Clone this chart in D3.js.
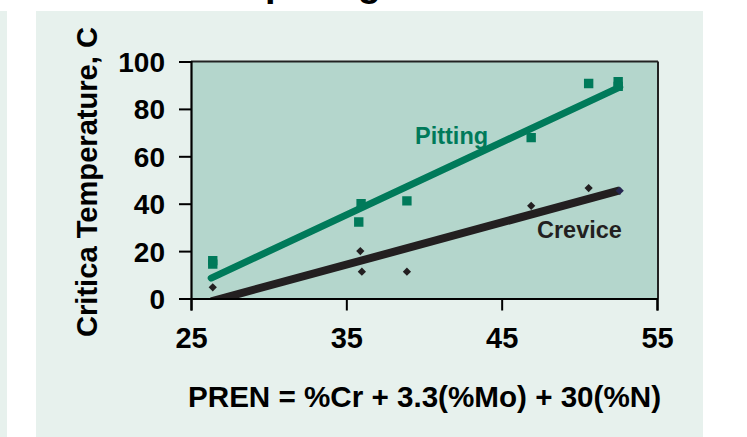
<!DOCTYPE html>
<html><head><meta charset="utf-8">
<script src="https://cdn.jsdelivr.net/npm/d3@7"></script>
<style>
html,body{margin:0;padding:0;background:#fff;}
svg{display:block;font-family:"Liberation Sans",Arial,sans-serif;font-weight:bold;}
</style></head>
<body>
<svg id="c" width="747" height="437"></svg>
<script>
// ---- data ----
const xTicks = [25, 35, 45, 55];
const yTicks = [0, 20, 40, 60, 80, 100];
const pittingX = [26.4, 26.4, 35.95, 35.8, 38.9, 46.9, 50.6, 52.5, 52.5];
const pittingY = [14.5, 16.0, 40.0, 32.3, 41.2, 67.9, 90.7, 91.5, 89.5];
const creviceX = [26.4, 35.9, 36.0, 38.9, 46.9, 50.6];
const creviceY = [4.7, 20.0, 11.3, 11.3, 39.1, 46.6];
const creviceLastX = [52.6];
const creviceLastY = [45.5];
const fitX = [26.3, 52.6];
const pittingFit = [8.6, 89.2];
const creviceFit = [-1.2, 45.6];
const labels = ["Pitting", "Crevice"];
const title = "Critical pitting";
const xTitle = "PREN = %Cr + 3.3(%Mo) + 30(%N)";
const yTitle = "Critica Temperature, C";

const svg = d3.select("#c");
const green = "#007a5a", dark = "#231f20";

// background panels
svg.append("rect").attr("x",0).attr("y",11).attr("width",7).attr("height",426).attr("fill","#e7f1ed");
svg.append("rect").attr("x",36).attr("y",11).attr("width",667).attr("height",426).attr("fill","#e7f1ed");

// title (mostly cut off above the picture)
const t = svg.append("text").attr("y",-4).attr("font-size",38).attr("fill","#000").text(title);
const pre = t.node().getSubStringLength(0, 9);
t.attr("x", 265 - pre);

const x = d3.scaleLinear().domain([25,55]).range([191,657]);
const y = d3.scaleLinear().domain([0,100]).range([298.5,61.5]);

// plot area
svg.append("rect").attr("x",x(25)).attr("y",y(100)).attr("width",x(55)-x(25)+1).attr("height",y(0)-y(100)).attr("fill","#b4d6cc");
svg.append("clipPath").attr("id","clip").append("rect")
  .attr("x",x(25)).attr("y",y(100)).attr("width",x(55)-x(25)).attr("height",y(0)-y(100));

const g = svg.append("g").attr("clip-path","url(#clip)");
const line = d3.line().x(d=>x(d[0])).y(d=>y(d[1]));
g.append("path").datum(fitX.map((v,i)=>[v,creviceFit[i]])).attr("d",line)
  .attr("stroke",dark).attr("stroke-width",8).attr("fill","none").attr("stroke-linecap","butt");
g.append("path").datum(fitX.map((v,i)=>[v,pittingFit[i]])).attr("d",line)
  .attr("stroke",green).attr("stroke-width",7).attr("fill","none").attr("stroke-linecap","round");

// points
const sq = d3.symbol().type(d3.symbolSquare).size(88);
g.selectAll(".p").data(pittingX.map((v,i)=>[v,pittingY[i]])).join("path")
  .attr("d",sq).attr("transform",d=>`translate(${x(d[0])},${y(d[1])})`).attr("fill",green);
const dm = d3.symbol().type(d3.symbolSquare).size(34);
g.selectAll(".c").data(creviceX.map((v,i)=>[v,creviceY[i]])).join("path")
  .attr("d",dm).attr("transform",d=>`translate(${x(d[0])},${y(d[1])}) rotate(45)`).attr("fill",dark);
g.selectAll(".cl").data(creviceLastX.map((v,i)=>[v,creviceLastY[i]])).join("path")
  .attr("d",dm).attr("transform",d=>`translate(${x(d[0])},${y(d[1])}) rotate(45)`).attr("fill","#26264f");

// series labels
svg.append("text").attr("x",415).attr("y",144).attr("font-size",23.5).attr("fill",green).text(labels[0]);
svg.append("text").attr("x",537).attr("y",238).attr("font-size",23.5).attr("fill",dark).text(labels[1]);

// frame (top/right)
svg.append("line").attr("x1",x(25)).attr("x2",x(55)+1).attr("y1",y(100)).attr("y2",y(100)).attr("stroke","#222").attr("stroke-width",2);
svg.append("line").attr("x1",x(55)+1).attr("x2",x(55)+1).attr("y1",y(100)).attr("y2",y(0)).attr("stroke","#222").attr("stroke-width",2);

// axes
const yAxis = d3.axisLeft(y).tickValues(yTicks).tickSize(12).tickPadding(14).tickFormat(d3.format("d"));
const ya = svg.append("g").attr("transform",`translate(${x(25)},0)`).call(yAxis);
ya.select(".domain").attr("stroke","#000").attr("stroke-width",2.2);
ya.selectAll(".tick line").attr("stroke","#000").attr("stroke-width",2);
ya.selectAll(".tick text").attr("font-size",28).attr("font-family","Liberation Sans, Arial, sans-serif").attr("font-weight","bold").attr("fill","#000").attr("dy","0.36em");

const xAxis = d3.axisBottom(x).tickValues(xTicks).tickSize(12).tickPadding(17).tickFormat(d3.format("d"));
const xa = svg.append("g").attr("transform",`translate(0,${y(0)})`).call(xAxis);
xa.select(".domain").attr("stroke","#000").attr("stroke-width",2.2);
xa.selectAll(".tick line").attr("stroke","#000").attr("stroke-width",2);
xa.selectAll(".tick text").attr("font-size",29).attr("font-family","Liberation Sans, Arial, sans-serif").attr("font-weight","bold").attr("fill","#000").attr("dy","0.71em");

// axis titles
svg.append("text").attr("x",424.5).attr("y",407).attr("text-anchor","middle").attr("font-size",30)
  .attr("textLength",473).attr("lengthAdjust","spacingAndGlyphs").attr("fill","#000").text(xTitle);
svg.append("text").attr("transform","translate(97,182) rotate(-90)").attr("text-anchor","middle").attr("font-size",29)
  .attr("textLength",310).attr("lengthAdjust","spacingAndGlyphs").attr("fill","#000").text(yTitle);
</script>
</body></html>
